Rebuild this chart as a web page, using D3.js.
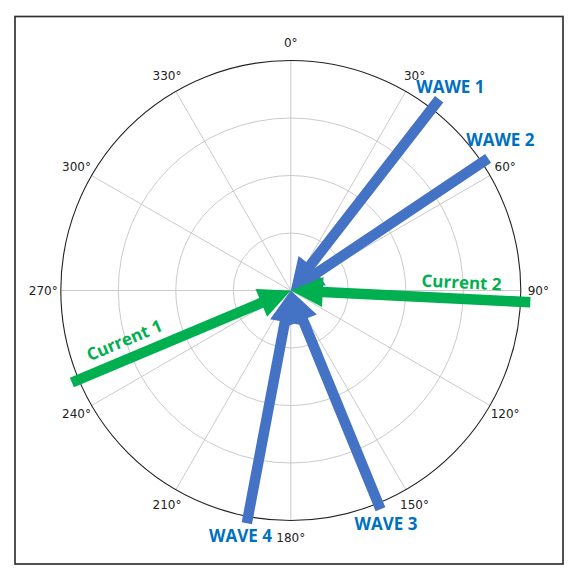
<!DOCTYPE html>
<html>
<head>
<meta charset="utf-8">
<script src="https://cdn.jsdelivr.net/npm/d3@7"></script>
<style>
  html, body { margin: 0; padding: 0; background: #fff; }
  svg { display: block; }
</style>
</head>
<body>
<svg id="chart" width="576" height="577"></svg>
<script>
// ---- data ----
const arrowNames = ["WAWE 1", "WAWE 2", "Current 2", "Current 1", "WAVE 3", "WAVE 4"];
const arrowKinds = ["wave", "wave", "current", "current", "wave", "wave"];
const arrowDirections = [37.8, 56.2, 92.8, 247.2, 157.7, 190.7];   // degrees, clockwise from north
const arrowMagnitudes = [4.21, 4.13, 4.17, 4.13, 4.11, 4.12];      // radial units
const angleTicks = [0, 30, 60, 90, 120, 150, 180, 210, 240, 270, 300, 330];
const angleTickLabels = ["0°", "30°", "60°", "90°", "120°", "150°", "180°", "210°", "240°", "270°", "300°", "330°"];
const radialTicks = [1, 2, 3, 4];

// ---- layout ----
const W = 576, H = 577;
const cx = 290.8, cy = 290.5, R = 230;
const colors = { wave: "#4472C4", current: "#00B050" };
const textColors = { wave: "#0070C0", current: "#00B050" };
const labelOffsets = [[11.2, -6.6], [12.2, -12.3], [-69, -13.8], [54.8, -36.7], [5.5, 20.4], [-6.4, 18.7]];
const shaftW = 10.5, headW = 30, headL = 32;

const svg = d3.select("#chart");
svg.append("rect").attr("width", W).attr("height", H).attr("fill", "#fff");
svg.append("rect").attr("x", 15).attr("y", 16.5).attr("width", 548).attr("height", 547.5)
   .attr("fill", "none").attr("stroke", "#333").attr("stroke-width", 1.7);

const r = d3.scaleLinear().domain([0, 4]).range([0, R]);
const a = d3.scaleLinear().domain([0, 360]).range([0, 2 * Math.PI]);
const pt = (deg, rad) => [cx + rad * Math.sin(a(deg)), cy - rad * Math.cos(a(deg))];

const g = svg.append("g");
// rings
g.selectAll("circle.ring").data(radialTicks.slice(0, -1)).join("circle")
  .attr("class", "ring").attr("cx", cx).attr("cy", cy).attr("r", d => r(d))
  .attr("fill", "none").attr("stroke", "#c4c4c4").attr("stroke-width", 0.9);
// spokes
g.selectAll("line.spoke").data(angleTicks).join("line")
  .attr("class", "spoke")
  .attr("x1", cx).attr("y1", cy)
  .attr("x2", d => pt(d, r(4))[0]).attr("y2", d => pt(d, r(4))[1])
  .attr("stroke", "#c4c4c4").attr("stroke-width", 0.9);
// outer circle
g.append("circle").attr("cx", cx).attr("cy", cy).attr("r", r(4))
  .attr("fill", "none").attr("stroke", "#222").attr("stroke-width", 1.1);
// angle labels
g.selectAll("text.tick").data(angleTicks).join("text")
  .attr("class", "tick")
  .attr("x", d => pt(d, R + 17.5)[0]).attr("y", d => pt(d, R + 17.5)[1])
  .attr("text-anchor", "middle").attr("dominant-baseline", "central")
  .attr("font-family", "DejaVu Sans").attr("font-size", 12).attr("fill", "#222")
  .text((d, i) => angleTickLabels[i]);

// arrows
const arrows = arrowNames.map((n, i) => ({
  name: n, kind: arrowKinds[i], dir: arrowDirections[i], mag: arrowMagnitudes[i], off: labelOffsets[i]
}));

function arrowPath(d) {
  const L = r(d.mag);
  const th = a(d.dir);
  const ux = Math.sin(th), uy = -Math.cos(th);   // outward
  const px = -uy, py = ux;                        // perpendicular
  const P = (s, t) => [cx + ux * s + px * t, cy + uy * s + py * t];
  const pts = [
    P(0, 0),
    P(headL, headW / 2),
    P(headL, shaftW / 2),
    P(L, shaftW / 2),
    P(L, -shaftW / 2),
    P(headL, -shaftW / 2),
    P(headL, -headW / 2)
  ];
  return "M" + pts.map(p => p.join(",")).join("L") + "Z";
}

svg.append("g").selectAll("path").data(arrows).join("path")
  .attr("d", arrowPath)
  .attr("fill", d => colors[d.kind]);

svg.append("g").selectAll("text").data(arrows).join("text")
  .attr("transform", d => {
    const tail = pt(d.dir, r(d.mag));
    const x = tail[0] + d.off[0], y = tail[1] + d.off[1];
    const rot = d.kind === "current" ? (d.dir < 180 ? d.dir - 90 : d.dir - 270) : 0;
    return `translate(${x},${y}) rotate(${rot})`;
  })
  .attr("text-anchor", "middle")
  .attr("font-family", "Open Sans").attr("font-weight", 700).attr("font-size", 17)
  .attr("fill", d => textColors[d.kind])
  .text(d => d.name);
</script>
</body>
</html>
